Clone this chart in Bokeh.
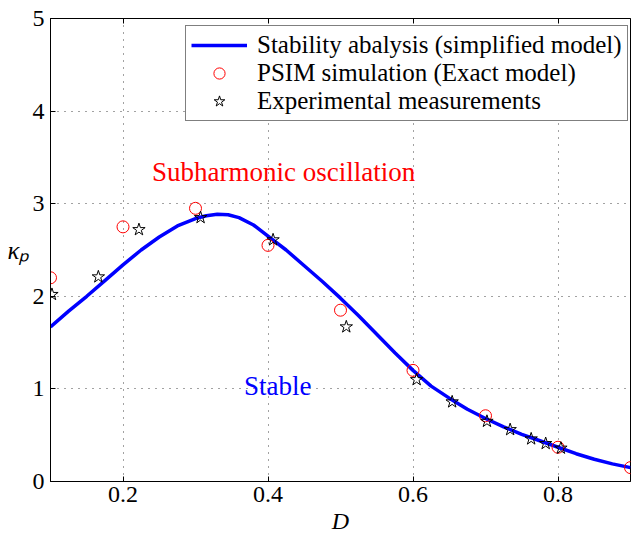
from bokeh.plotting import figure
from bokeh.models import (LinearAxis, FixedTicker, Label, Legend, LegendItem)
from bokeh.embed import file_html
from bokeh.resources import INLINE

# ---- data ----
curve_D = [0.10, 0.125, 0.15, 0.175, 0.20, 0.225, 0.25, 0.275, 0.30, 0.315,
           0.33, 0.345, 0.36, 0.38, 0.40, 0.425, 0.45, 0.475, 0.50, 0.525,
           0.55, 0.575, 0.60, 0.625, 0.65, 0.675, 0.70, 0.725, 0.75, 0.775,
           0.80, 0.825, 0.85, 0.875, 0.90]
curve_k = [1.67, 1.84, 2.00, 2.17, 2.34, 2.50, 2.64, 2.76, 2.84, 2.87,
           2.885, 2.88, 2.85, 2.77, 2.65, 2.50, 2.33, 2.16, 1.98, 1.79,
           1.59, 1.39, 1.20, 1.03, 0.90, 0.78, 0.68, 0.59, 0.51, 0.44,
           0.37, 0.30, 0.24, 0.19, 0.15]

psim_D = [0.1, 0.2, 0.3, 0.4, 0.5, 0.6, 0.7, 0.8, 0.9]
psim_k = [2.20, 2.75, 2.95, 2.55, 1.85, 1.20, 0.71, 0.37, 0.15]

exp_D = [0.102, 0.166, 0.222, 0.307, 0.407, 0.508, 0.605, 0.654, 0.702,
         0.734, 0.763, 0.783, 0.804]
exp_k = [2.02, 2.21, 2.72, 2.85, 2.61, 1.67, 1.10, 0.86, 0.65,
         0.56, 0.46, 0.41, 0.36]

x_ticks = [0.2, 0.4, 0.6, 0.8]
y_ticks = [0, 1, 2, 3, 4, 5]

legend_labels = ["Stability abalysis (simplified model)",
                 "PSIM simulation (Exact model)",
                 "Experimental measurements"]

SERIF = "'Liberation Serif', 'Times New Roman', serif"

p = figure(width=632, height=536, x_range=(0.1, 0.9), y_range=(0, 5),
           output_backend="svg", toolbar_location=None,
           min_border_left=50, min_border_right=2, min_border_top=18,
           min_border_bottom=55)
p.background_fill_color = "white"
p.border_fill_color = "white"
p.outline_line_color = "black"
p.outline_line_width = 1

# axes
for ax in (p.xaxis[0], p.yaxis[0]):
    ax.major_tick_in = 5
    ax.major_tick_out = 0
    ax.minor_tick_line_color = None
    ax.axis_line_color = "black"
    ax.major_tick_line_color = "black"
    ax.major_label_text_font = SERIF
    ax.major_label_text_font_size = "24px"
    ax.major_label_text_color = "black"
    ax.axis_label_text_font = SERIF
    ax.axis_label_text_font_style = "italic"
    ax.axis_label_text_color = "black"
p.xaxis[0].ticker = FixedTicker(ticks=x_ticks)
p.yaxis[0].ticker = FixedTicker(ticks=y_ticks)
p.xaxis[0].major_label_standoff = 5
p.yaxis[0].major_label_standoff = 6

p.xaxis[0].axis_label = "D"
p.xaxis[0].axis_label_text_font_size = "24px"
p.xaxis[0].axis_label_standoff = 3
p.xaxis[0].axis_label_text_line_height = 0.8
p.xaxis[0].major_label_text_line_height = 0.8

p.yaxis[0].axis_label = "κₚ"
p.yaxis[0].axis_label_text_font_size = "25px"
p.yaxis[0].axis_label_orientation = "horizontal"
p.yaxis[0].axis_label_standoff = 0

top = LinearAxis(ticker=FixedTicker(ticks=x_ticks), major_tick_in=5,
                 major_tick_out=0, minor_tick_line_color=None,
                 major_label_text_font_size="0px", major_label_standoff=0,
                 axis_line_color="black")
p.add_layout(top, "above")

# grid
for g in (p.xgrid[0], p.ygrid[0]):
    g.grid_line_color = "#444444"
    g.grid_line_dash = "1 6"
    g.grid_line_width = 1
p.xgrid[0].ticker = FixedTicker(ticks=x_ticks)
p.ygrid[0].ticker = FixedTicker(ticks=[1, 2, 3, 4])

# data
r_line = p.line(curve_D, curve_k, line_color="#0000ff", line_width=3.5)
r_psim = p.scatter(psim_D, psim_k, marker="circle", size=12,
                   line_color="#ff0000", fill_color=None, line_width=1)
r_exp = p.scatter(exp_D, exp_k, marker="star", size=13,
                  line_color="black", fill_color=None, line_width=1)

legend = Legend(items=[LegendItem(label=legend_labels[0], renderers=[r_line]),
                       LegendItem(label=legend_labels[1], renderers=[r_psim]),
                       LegendItem(label=legend_labels[2], renderers=[r_exp])],
                location=(135, 360))
legend.label_text_font = SERIF
legend.label_text_font_size = "25px"
legend.label_text_color = "black"
legend.border_line_color = "black"
legend.border_line_width = 1
legend.padding = 5
legend.spacing = 0
legend.glyph_width = 56
legend.glyph_height = 28
legend.label_height = 28
legend.label_standoff = 10
legend.margin = 0
legend.background_fill_color = "white"
legend.background_fill_alpha = 1
p.add_layout(legend, "center")

# annotations
p.add_layout(Label(x=0.4215, y=3.34, text="Subharmonic oscillation",
                   text_font=SERIF, text_font_size="27px", text_color="#ff0000",
                   text_align="center", text_baseline="middle"))
p.add_layout(Label(x=0.4135, y=1.03, text="Stable",
                   text_font=SERIF, text_font_size="27px", text_color="#0000ff",
                   text_align="center", text_baseline="middle"))

open("out.html", "w").write(file_html(p, INLINE))
